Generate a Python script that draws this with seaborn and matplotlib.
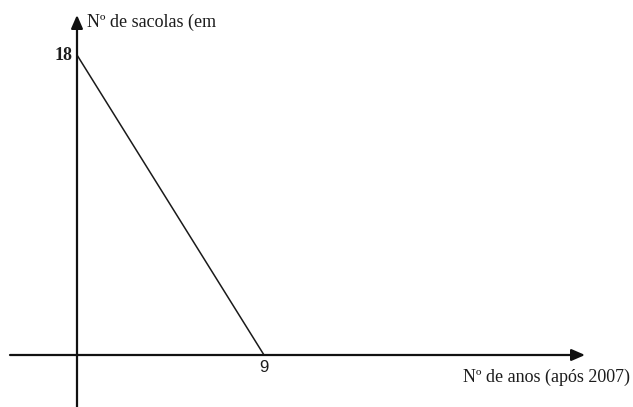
import matplotlib
matplotlib.use("Agg")
import matplotlib.pyplot as plt
import pandas as pd
import seaborn as sns

# data
years = [0, 9]
bags = [18, 0]
x_ticks = [9]
y_ticks = [18]
x_label = "Nº de anos (após 2007)"
y_label = "Nº de sacolas (em"

sns.set_style("white")
plt.rcParams['font.family'] = ['Liberation Serif', 'DejaVu Serif']

fig = plt.figure(figsize=(6.33, 4.07), dpi=100)
ax = fig.add_axes([0, 0, 1, 1])

df = pd.DataFrame({"anos": years, "sacolas": bags})
sns.lineplot(data=df, x="anos", y="sacolas", color="#1a1a1a", linewidth=1.1, ax=ax)

# pixel layout: origin at (77, 355), 9 years ~ 187 px, 18 bags ~ 300 px
px_x = 187 / 9
px_y = 300 / 18
ax.set_xlim(-77 / px_x, (633 - 77) / px_x)
ax.set_ylim(-(407 - 355) / px_y, 355 / px_y)

ax_col = "#111111"
# x axis with arrow
ax.annotate("", xy=((585 - 77) / px_x, 0), xytext=((10 - 77) / px_x, 0),
            arrowprops=dict(arrowstyle="-|>,head_length=0.8,head_width=0.35",
                            color=ax_col, lw=1.6, shrinkA=0, shrinkB=0))
# y axis with arrow
ax.annotate("", xy=(0, (355 - 15) / px_y), xytext=(0, -(407 - 355) / px_y),
            arrowprops=dict(arrowstyle="-|>,head_length=0.8,head_width=0.35",
                            color=ax_col, lw=1.6, shrinkA=0, shrinkB=0))

txt = "#1c1c1c"
for t in y_ticks:
    ax.text(-4 / px_x, t, str(t), ha="right", va="center", fontsize=13,
            color=txt, fontweight="bold")
for t in x_ticks:
    ax.text(t, -13 / px_y, str(t), ha="center", va="center", fontsize=12,
            color=txt, family=["Liberation Sans", "DejaVu Sans"])

ax.text(10 / px_x, (355 - 22) / px_y, y_label, ha="left", va="center",
        fontsize=13, color=txt)
ax.text((630 - 77) / px_x, -22 / px_y, x_label, ha="right", va="center",
        fontsize=13, color=txt)

ax.set_axis_off()
fig.savefig("out.png", dpi=100)
